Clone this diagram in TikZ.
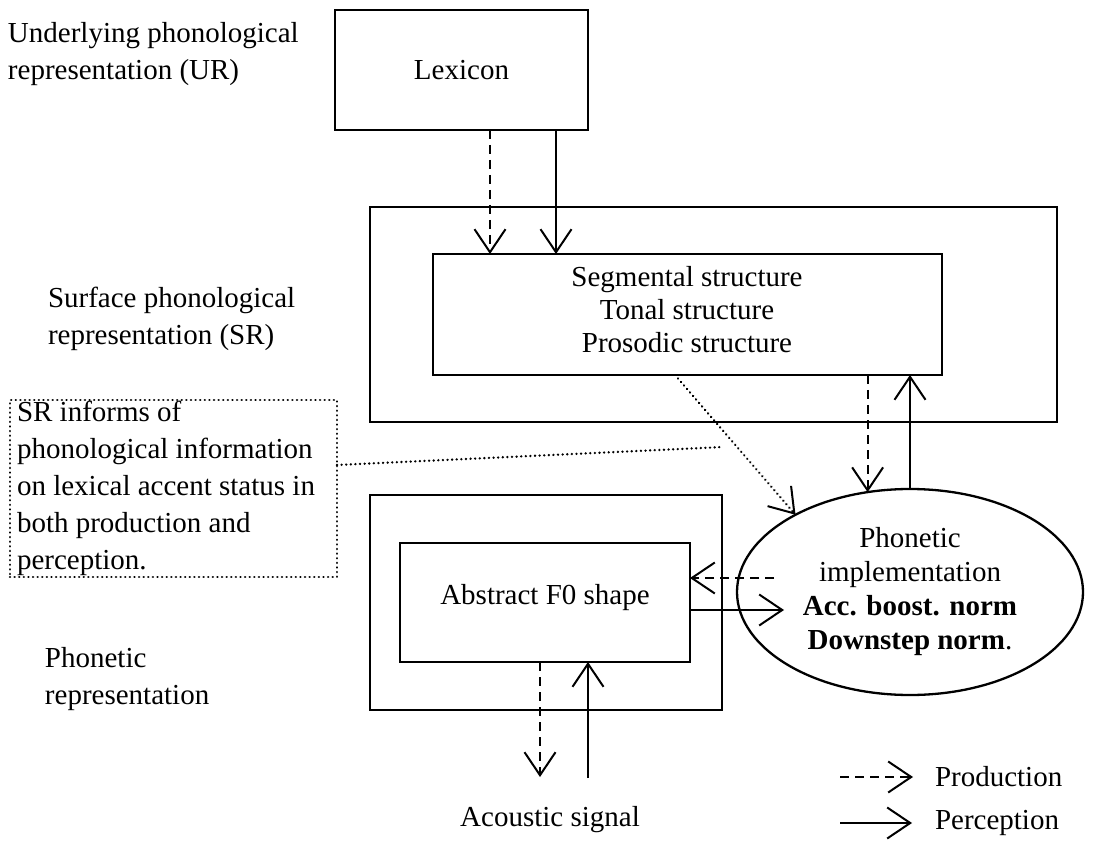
\documentclass[tikz,border=0pt]{standalone}
\usepackage{fontspec}
\setmainfont{Liberation Serif}
\usetikzlibrary{arrows.meta,shapes.geometric}
\begin{document}
\begin{tikzpicture}[x=1pt,y=-1pt,
  every node/.style={font=\fontsize{29}{37}\selectfont, inner sep=0pt, outer sep=0pt},
  frame/.style={draw, line width=2.3pt, rectangle, inner sep=0pt},
  tipv/.style={-{Straight Barb[length=23pt,width=31pt,line width=2pt]}},
  prod/.style={line width=2pt, dash pattern=on 9pt off 6pt, tipv},
  perc/.style={line width=2pt, tipv},
  dotline/.style={line width=2.6pt, dash pattern=on 0.01pt off 4.6pt, line cap=round}]
\useasboundingbox[fill=white] (0,0) rectangle (1093,842);

% left labels
\node[anchor=west, align=left] (urlab) at (8,54) {Underlying phonological\\representation (UR)};
\node[anchor=west, align=left] (srlab) at (48,319) {Surface phonological\\representation (SR)};
\node[anchor=west, align=left] (phlab) at (45,679) {Phonetic\\representation};

% Lexicon
\node[frame, minimum width=253, minimum height=120] (lex) at (461.5,70) {Lexicon};

% SR boxes
\node[frame, minimum width=687, minimum height=215] (srout) at (713.5,314.5) {};
\node[frame, minimum width=509, minimum height=121] (srin) at (687.5,314.5) {};
\node[align=center, font=\fontsize{29}{33}\selectfont] (srtext) at (687,310) {Segmental structure\\Tonal structure\\Prosodic structure};

% callout
\node[draw, dotline, minimum width=327, minimum height=177, text width=313, align=flush left, inner xsep=7pt] (callout) at (173.5,488.5)
  {SR informs of\\phonological information\\on lexical accent status in\\both production and\\perception.};
\coordinate (dotend) at (723,447);
\draw[dotline] ([yshift=23.5pt]callout.east) -- (dotend);

% phonetic boxes
\node[frame, minimum width=352, minimum height=215] (phout) at (546,602.5) {};
\node[frame, minimum width=290, minimum height=119] (phin) at (545,602.5) {};
\node (phtext) at (545,598) {Abstract F0 shape};

% ellipse
\node[ellipse, draw, line width=2.3pt, minimum width=346, minimum height=206] (ell) at (910,592) {};
\node[align=center, font=\fontsize{29}{34}\selectfont] (elltext) at (910,592)
  {Phonetic\\implementation\\\textbf{Acc. boost. norm}\\\textbf{Downstep norm}.};

% Lexicon -> SR
\draw[prod] (490,0 |- lex.south) -- (490,0 |- srin.north);
\draw[perc] (556,0 |- lex.south) -- (556,0 |- srin.north);

% SR <-> ellipse
\draw[prod] (ell.113.8 |- srin.south) -- (ell.113.8);
\draw[perc] (ell.north) -- (ell.north |- srin.south);
\draw[dotline, tipv] (675,0 |- srin.south) -- (ell.146.7);

% ellipse <-> phonetic
\coordinate (hA) at (774,578);
\coordinate (hB) at (784,610);
\draw[prod] (hA) -- (hA -| phin.east);
\draw[perc] (hB -| phin.east) -- (hB);

% acoustic
\coordinate (acA) at (540,777);
\coordinate (acB) at (588,778);
\draw[prod] (acA |- phin.south) -- (acA);
\draw[perc] (acB) -- (acB |- phin.south);
\node (acoustic) at (550,820) {Acoustic signal};

% legend
\coordinate (lgA1) at (840,777);
\coordinate (lgA2) at (913,777);
\coordinate (lgB1) at (840,823);
\coordinate (lgB2) at (912,823);
\draw[prod] (lgA1) -- (lgA2);
\draw[perc] (lgB1) -- (lgB2);
\node[anchor=west] (lgprod) at (935,777) {Production};
\node[anchor=west] (lgperc) at (935,823) {Perception};
\end{tikzpicture}
\end{document}
